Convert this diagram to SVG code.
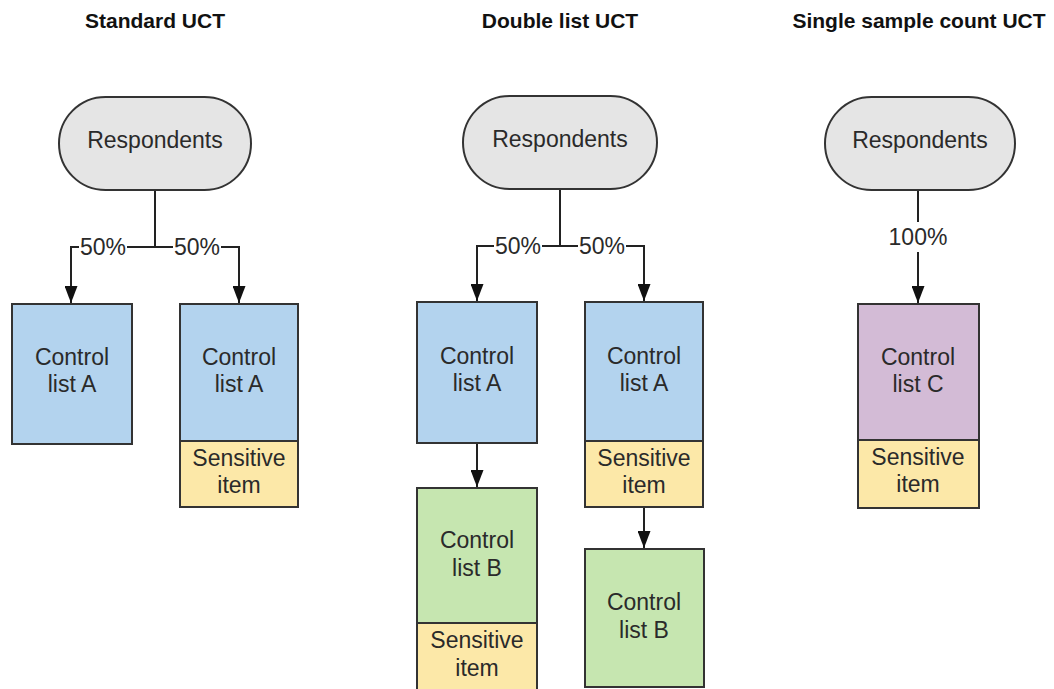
<svg xmlns="http://www.w3.org/2000/svg" width="1054" height="689" viewBox="0 0 1054 689">
<defs>
<style>
.title{font-family:"Liberation Sans",Arial,sans-serif;font-weight:bold;font-size:21px;fill:#111;text-anchor:middle}
.t{font-family:"Liberation Sans",Arial,sans-serif;font-size:23px;fill:#2a2a2a;text-anchor:middle}
.pill{fill:#e5e5e5;stroke:#333;stroke-width:2}
.blue{fill:#b3d3ee;stroke:#333;stroke-width:2}
.yellow{fill:#fce8a8;stroke:#333;stroke-width:2}
.green{fill:#c6e6b0;stroke:#333;stroke-width:2}
.purple{fill:#d3bbd6;stroke:#333;stroke-width:2}
.ln{fill:none;stroke:#222;stroke-width:2}
.lb{fill:#fff}
</style>
<marker id="ar" viewBox="0 0 17 13" refX="17" refY="6.5" markerWidth="17" markerHeight="13" markerUnits="userSpaceOnUse" orient="auto">
<path d="M0,0 L17,6.5 L0,13 z" fill="#111"/>
</marker>
</defs>
<rect width="1054" height="689" fill="#fff"/>

<text class="title" x="155" y="28">Standard UCT</text>
<text class="title" x="560" y="28">Double list UCT</text>
<text class="title" x="919" y="28">Single sample count UCT</text>

<g id="connectors">
<path class="ln" d="M155,190 V247 H71 V303" marker-end="url(#ar)"/>
<path class="ln" d="M155,247 H239 V303" marker-end="url(#ar)"/>
<path class="ln" d="M560,189 V246 H477 V301" marker-end="url(#ar)"/>
<path class="ln" d="M560,246 H644 V301" marker-end="url(#ar)"/>
<path class="ln" d="M477,443 V487" marker-end="url(#ar)"/>
<path class="ln" d="M644,507 V548" marker-end="url(#ar)"/>
<path class="ln" d="M918,190 V303" marker-end="url(#ar)"/>
<rect class="lb" x="79" y="236" width="48" height="22"/>
<text class="t" x="103" y="255">50%</text>
<rect class="lb" x="173" y="236" width="48" height="22"/>
<text class="t" x="197" y="255">50%</text>
<rect class="lb" x="494" y="235" width="48" height="22"/>
<text class="t" x="518" y="254">50%</text>
<rect class="lb" x="578" y="235" width="48" height="22"/>
<text class="t" x="602" y="254">50%</text>
<rect class="lb" x="888" y="222" width="60" height="30"/>
<text class="t" x="918" y="245">100%</text>
</g>

<g id="std-respondents">
<rect class="pill" x="59" y="97" width="192" height="93" rx="46.5"/>
<text class="t" x="155" y="148">Respondents</text>
</g>
<g id="std-control-a1">
<rect class="blue" x="12" y="304" width="120" height="140"/>
<text class="t" x="72" y="365">Control</text>
<text class="t" x="72" y="392">list A</text>
</g>
<g id="std-control-a2">
<rect class="blue" x="180" y="304" width="118" height="137"/>
<text class="t" x="239" y="365">Control</text>
<text class="t" x="239" y="392">list A</text>
<rect class="yellow" x="180" y="441" width="118" height="66"/>
<text class="t" x="239" y="466">Sensitive</text>
<text class="t" x="239" y="493">item</text>
</g>

<g id="dbl-respondents">
<rect class="pill" x="463" y="96" width="194" height="93" rx="46.5"/>
<text class="t" x="560" y="147">Respondents</text>
</g>
<g id="dbl-control-a1">
<rect class="blue" x="417" y="302" width="120" height="141"/>
<text class="t" x="477" y="364">Control</text>
<text class="t" x="477" y="391">list A</text>
</g>
<g id="dbl-control-a2">
<rect class="blue" x="585" y="302" width="118" height="139"/>
<text class="t" x="644" y="364">Control</text>
<text class="t" x="644" y="391">list A</text>
<rect class="yellow" x="585" y="441" width="118" height="66"/>
<text class="t" x="644" y="466">Sensitive</text>
<text class="t" x="644" y="493">item</text>
</g>
<g id="dbl-control-b1">
<rect class="green" x="417" y="488" width="120" height="135"/>
<text class="t" x="477" y="548">Control</text>
<text class="t" x="477" y="576">list B</text>
<rect class="yellow" x="417" y="623" width="120" height="70"/>
<text class="t" x="477" y="648">Sensitive</text>
<text class="t" x="477" y="676">item</text>
</g>
<g id="dbl-control-b2">
<rect class="green" x="585" y="549" width="119" height="138"/>
<text class="t" x="644" y="610">Control</text>
<text class="t" x="644" y="638">list B</text>
</g>

<g id="ssc-respondents">
<rect class="pill" x="825" y="97" width="190" height="93" rx="46.5"/>
<text class="t" x="920" y="148">Respondents</text>
</g>
<g id="ssc-control-c">
<rect class="purple" x="858" y="304" width="121" height="136"/>
<text class="t" x="918" y="365">Control</text>
<text class="t" x="918" y="392">list C</text>
<rect class="yellow" x="858" y="440" width="121" height="68"/>
<text class="t" x="918" y="465">Sensitive</text>
<text class="t" x="918" y="492">item</text>
</g>
</svg>
